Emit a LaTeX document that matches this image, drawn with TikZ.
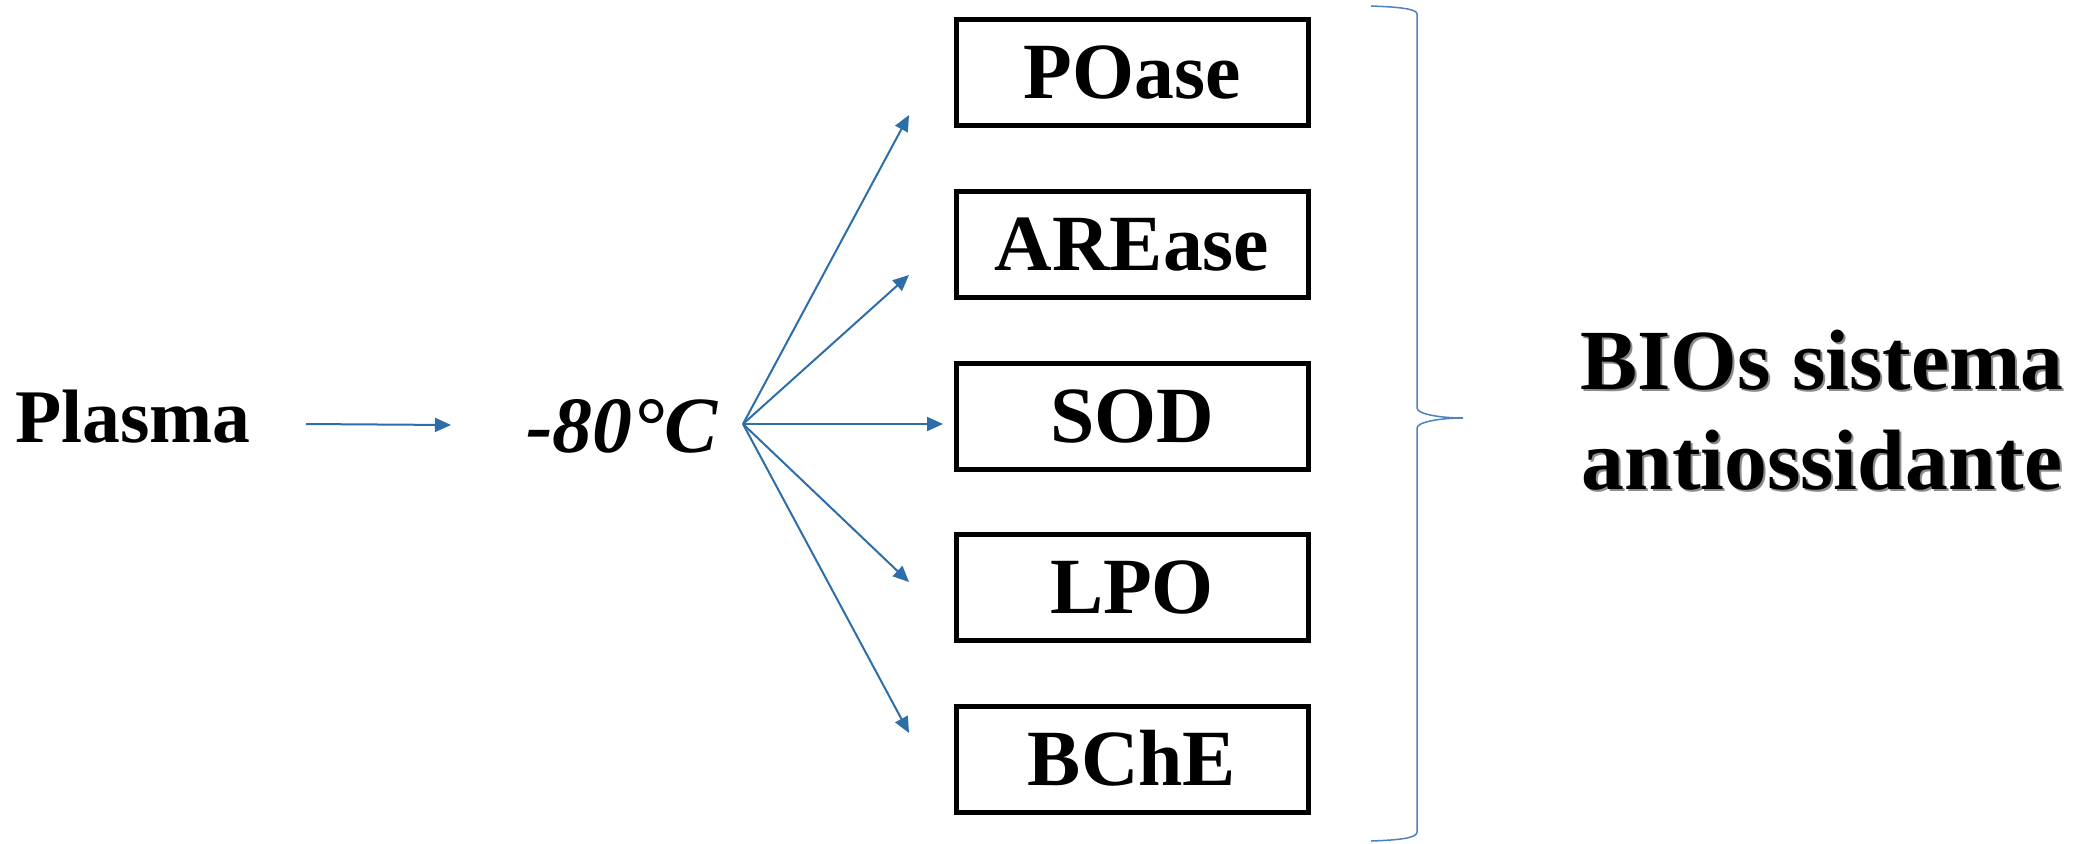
\documentclass[tikz,border=0pt]{standalone}
\usepackage{fontspec}
\setmainfont{Liberation Serif}
\usepackage{tikz}
\usetikzlibrary{arrows.meta}
\definecolor{arrowblue}{RGB}{46,110,168}
\definecolor{braceblue}{RGB}{79,129,189}
\tikzset{
  enzyme/.style={draw=black,line width=2.5bp,minimum width=176bp,minimum height=53bp,inner sep=0pt,
    font=\fontsize{40}{48}\selectfont\bfseries,text height=26.5bp,text depth=0pt},
  flow/.style={draw=arrowblue,line width=1bp,-{Triangle[length=8bp,width=7bp]}},
}
\begin{document}
\begin{tikzpicture}[x=0.5bp,y=-0.5bp]
\useasboundingbox (0,0) rectangle (2089,843);
\fill[white] (0,0) rectangle (2089,843);
% Sample and storage
\node[anchor=base,inner sep=0pt,font=\fontsize{38}{44}\selectfont\bfseries] (plasma) at (133,442) {Plasma};
\node[anchor=base,inner sep=0pt,font=\fontsize{40}{48}\selectfont\bfseries\itshape] (temp) at (622,452) {-80°C};
\coordinate (pstart) at (306,424);
\coordinate (pend) at (451,425);
\draw[flow] (pstart) -- (pend);
% Enzyme boxes
\node[enzyme] (poase) at (1132,72) {POase};
\node[enzyme] (arease) at (1132,244) {AREase};
\node[enzyme] (sod) at (1132,416) {SOD};
\node[enzyme] (lpo) at (1132,587) {LPO};
\node[enzyme] (bche) at (1132,759) {BChE};
% Fan of arrows from -80C
\coordinate (fan) at (743,424);
\coordinate (tip1) at (909,115);
\coordinate (tip2) at (909,275);
\coordinate (tip3) at (943,424);
\coordinate (tip4) at (909,582);
\coordinate (tip5) at (909,733);
\draw[flow] (fan) -- (tip1);
\draw[flow] (fan) -- (tip2);
\draw[flow] (fan) -- (tip3);
\draw[flow] (fan) -- (tip4);
\draw[flow] (fan) -- (tip5);
% Brace and result
\draw[braceblue,line width=0.75bp] (1371,6) .. controls (1400,7) and (1417,9) .. (1417,14)
  -- (1417,408) .. controls (1417,414) and (1440,418) .. (1463,418)
  .. controls (1440,418) and (1417,422) .. (1417,428)
  -- (1417,832) .. controls (1417,838) and (1400,840) .. (1371,841);
\node[align=center,inner sep=0pt,text=black!45,font=\fontsize{43}{50.5}\selectfont\bfseries] (biosshadow) at (1824,412) {BIOs sistema\\antiossidante};
\node[align=center,inner sep=0pt,font=\fontsize{43}{50.5}\selectfont\bfseries] (bios) at (1822,410) {BIOs sistema\\antiossidante};
\end{tikzpicture}
\end{document}
